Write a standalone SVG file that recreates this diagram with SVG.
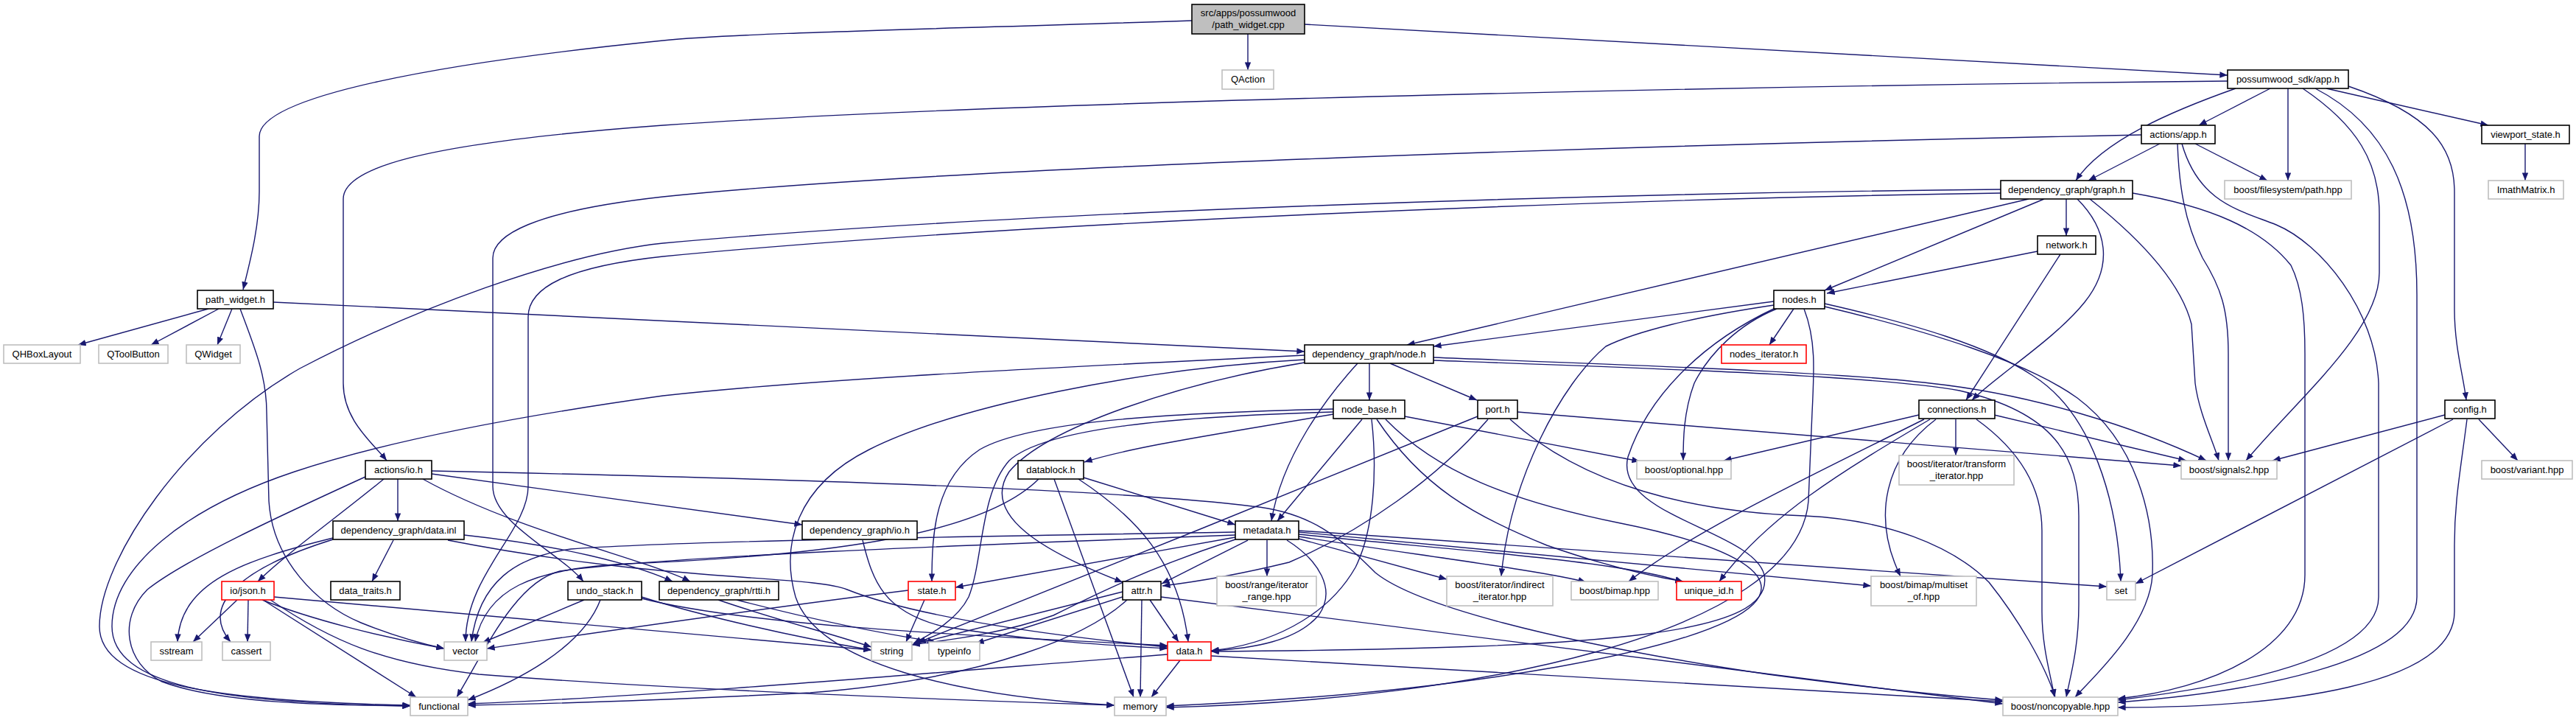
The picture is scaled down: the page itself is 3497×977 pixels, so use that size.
<svg xmlns="http://www.w3.org/2000/svg" width="3497" height="977" viewBox="0 0 3497 977">
<style>
.n rect{fill:#fff;stroke:#000;stroke-width:1.6}
.g rect{stroke:#bfbfbf}
.r rect{stroke:#ff0000}
.c rect{fill:#bfbfbf}
text{font-family:"Liberation Sans",Arial,Helvetica,sans-serif;font-size:13px;text-anchor:middle;fill:#000}
#edges path{fill:none;stroke:#191970;stroke-width:1.4;marker-end:url(#a)}
</style>
<defs>
<marker id="a" viewBox="0 0 10 8" refX="10" refY="4" markerWidth="11" markerHeight="8.5" orient="auto" markerUnits="userSpaceOnUse"><path d="M0,0L10,4L0,8z" fill="#191970"/></marker>
</defs>
<rect width="3497" height="977" fill="#fff"/>
<g id="edges">
<path d="M1618,28 C1250,40 1000,45 900,55 C600,85 352,130 352,185 L352,260 C352,310 338,360 330,393"/>
<path d="M1694,46 L1694,95"/>
<path d="M1771,33 L3024,102"/>
<path d="M3082,120 L2985,170"/>
<path d="M3035,120 C2950,150 2855,190 2818,245"/>
<path d="M3106,120 L3106,245"/>
<path d="M3158,120 L3378,170"/>
<path d="M3188,117 C3300,155 3332,200 3332,260 L3332,420 C3332,470 3344,510 3348,543"/>
<path d="M3126,120 C3200,170 3230,220 3230,290 L3230,370 C3230,450 3120,540 3049,625"/>
<path d="M3143,120 C3240,170 3281,260 3281,400 L3281,810 C3281,900 3050,940 2875,953"/>
<path d="M3024,110 C2500,115 1400,135 900,170 C560,195 466,230 466,270 L466,520 C466,570 505,600 525,625"/>
<path d="M2932,195 L2835,245"/>
<path d="M2980,195 L3078,245"/>
<path d="M2907,183 C2300,195 1300,225 900,267 C720,287 669,320 669,350 L669,660 C669,710 760,750 792,789"/>
<path d="M2956,195 C2958,250 2965,300 2990,350 C3015,390 3025,420 3025,480 L3025,625"/>
<path d="M2962,195 C2985,275 3040,285 3090,305 C3150,330 3225,420 3229,520 L3229,810 C3229,900 3000,935 2875,950"/>
<path d="M3428,195 L3428,245"/>
<path d="M2805,270 L2805,320"/>
<path d="M2754,270 L1910,468"/>
<path d="M2775,270 L2477,394"/>
<path d="M2820,270 C2860,310 2870,360 2830,410 C2790,460 2710,510 2677,543"/>
<path d="M2837,270 C2900,320 2960,380 2975,440 L2980,520 C2985,560 3005,600 3012,625"/>
<path d="M2895,262 C3000,280 3070,310 3110,360 C3125,390 3129,430 3129,480 L3129,780 C3129,880 3000,935 2875,948"/>
<path d="M2716,257 C2200,262 1400,285 900,330 C760,345 560,420 407,500 C250,590 135,760 135,850 C135,930 300,952 557,957"/>
<path d="M2716,262 C2200,270 1400,300 900,348 C770,362 717,390 717,430 L717,660 C717,720 632,780 632,871"/>
<path d="M2766,341 L2480,398"/>
<path d="M2797,345 L2669,543"/>
<path d="M283,419 L106,468"/>
<path d="M297,419 L205,468"/>
<path d="M315,419 L295,468"/>
<path d="M371,410 L1771,477"/>
<path d="M326,419 C345,470 362,510 362,560 L365,680 C370,760 430,820 490,845 C540,865 575,874 603,880"/>
<path d="M1859,493 L1859,543"/>
<path d="M1887,493 L2005,543"/>
<path d="M1843,493 C1800,540 1740,620 1726,707"/>
<path d="M1771,482 C1400,500 1100,515 900,537 C700,565 520,600 400,640 C250,690 152,770 152,850 C152,930 300,955 557,958"/>
<path d="M1771,488 C1550,500 1300,550 1180,610 C1080,660 1060,740 1080,810 C1110,900 1300,945 1513,957"/>
<path d="M1771,492 C1600,520 1420,580 1370,640 C1330,700 1420,750 1524,790"/>
<path d="M1946,485 C2200,495 2500,505 2620,520 C2760,535 2900,580 2995,625"/>
<path d="M1946,489 C2250,500 2550,510 2660,530 C2790,560 2822,620 2822,700 L2822,820 C2822,880 2810,920 2805,946"/>
<path d="M1810,562 C1680,585 1540,605 1472,627"/>
<path d="M1810,555 C1600,560 1400,570 1330,610 C1270,650 1265,720 1265,789"/>
<path d="M1810,559 C1600,565 1420,580 1370,625 C1330,670 1335,760 1315,810 C1300,840 1265,860 1240,873"/>
<path d="M1849,569 L1734,707"/>
<path d="M1862,569 C1870,640 1865,720 1840,770 C1800,840 1720,875 1644,883"/>
<path d="M1869,569 C1930,660 2000,700 2100,740 C2200,775 2260,785 2285,789"/>
<path d="M1907,565 L2226,626"/>
<path d="M1881,569 C1950,640 2050,680 2200,710 C2350,740 2420,780 2380,820 C2320,880 2000,940 1583,958"/>
<path d="M2006,565 C1800,650 1450,790 1246,872"/>
<path d="M2020,569 C1950,650 1850,720 1750,763 C1680,780 1620,790 1578,795"/>
<path d="M2050,569 C2150,660 2300,695 2450,700 C2560,705 2650,740 2700,790 C2740,840 2775,900 2790,946"/>
<path d="M2060,559 L2961,632"/>
<path d="M2408,409 L1946,470"/>
<path d="M2408,414 C2300,430 2220,450 2180,470 C2120,520 2050,650 2038,782"/>
<path d="M2410,418 C2320,460 2240,530 2210,620 C2190,700 2380,720 2395,780 C2410,860 2200,880 1644,884"/>
<path d="M2412,419 C2360,440 2320,480 2300,520 C2285,560 2285,600 2285,625"/>
<path d="M2435,419 L2402,468"/>
<path d="M2449,419 C2465,460 2463,500 2460,560 L2455,680 C2440,860 2000,950 1583,960"/>
<path d="M2477,412 C2600,440 2700,470 2760,510 C2840,560 2875,680 2879,789"/>
<path d="M2477,416 C2620,450 2750,490 2820,540 C2900,600 2925,700 2922,780 C2918,850 2840,920 2817,946"/>
<path d="M2605,563 L2340,625"/>
<path d="M2612,569 C2450,650 2300,720 2211,789"/>
<path d="M2620,569 C2500,640 2400,700 2334,789"/>
<path d="M2628,569 C2560,620 2540,700 2580,782"/>
<path d="M2655,569 L2655,618"/>
<path d="M2707,563 L2968,625"/>
<path d="M2683,569 C2740,610 2772,660 2772,720 L2772,830 C2772,880 2785,920 2789,946"/>
<path d="M3319,563 L3085,625"/>
<path d="M3330,569 L2899,792"/>
<path d="M3365,569 L3418,625"/>
<path d="M3349,569 C3340,640 3332,680 3332,740 L3332,830 C3332,930 3100,960 2875,960"/>
<path d="M540,650 L540,707"/>
<path d="M521,650 C460,700 390,750 350,789"/>
<path d="M496,647 C380,700 250,760 200,800 C160,840 170,900 220,925 C300,955 450,957 557,958"/>
<path d="M586,643 L1089,712"/>
<path d="M586,639 C1000,648 1500,662 1700,687 C1780,695 1820,730 1867,777 C1920,820 2100,870 2400,915 C2550,935 2650,945 2719,950"/>
<path d="M574,650 C700,720 880,760 937,789"/>
<path d="M534,733 L505,789"/>
<path d="M452,730 C330,760 245,790 241,871"/>
<path d="M452,732 C330,770 270,820 313,871"/>
<path d="M630,726 C760,740 860,765 913,789"/>
<path d="M608,733 C900,790 1100,780 1150,800 C1250,840 1450,865 1585,878"/>
<path d="M1171,733 C1185,790 1200,830 1280,850 C1400,870 1500,875 1585,880"/>
<path d="M1720,733 L1720,782"/>
<path d="M1694,733 L1577,792"/>
<path d="M1677,729 L1297,797"/>
<path d="M1677,732 C1560,770 1480,810 1430,835 C1360,860 1290,868 1238,875"/>
<path d="M1677,722 C1300,728 900,735 775,745 C700,755 650,790 640,871"/>
<path d="M1677,726 C1300,740 900,755 760,775 C700,790 660,880 620,946"/>
<path d="M1763,720 L2860,796"/>
<path d="M1763,722 L2540,795"/>
<path d="M1763,725 C1950,745 2200,760 2285,790"/>
<path d="M1763,728 C1900,750 2100,775 2153,790"/>
<path d="M1763,731 L1964,786"/>
<path d="M1747,733 C1790,760 1815,800 1790,835 C1760,870 1700,880 1644,883"/>
<path d="M1471,648 L1677,712"/>
<path d="M1464,650 C1540,700 1600,760 1613,871"/>
<path d="M1431,650 L1539,946"/>
<path d="M1410,650 C1330,730 1100,755 850,765 C720,772 660,800 645,871"/>
<path d="M1233,801 C1000,830 800,860 661,880"/>
<path d="M1255,814 L1230,871"/>
<path d="M1524,803 L1238,875"/>
<path d="M1530,808 L1325,873"/>
<path d="M1561,814 L1600,871"/>
<path d="M1550,814 L1548,946"/>
<path d="M1530,814 C1480,860 1350,920 1100,940 C900,950 750,955 635,957"/>
<path d="M1576,810 L2719,955"/>
<path d="M1602,896 L1563,946"/>
<path d="M1585,888 C1300,910 900,945 635,955"/>
<path d="M1644,890 L2719,952"/>
<path d="M322,814 L262,871"/>
<path d="M337,814 L336,871"/>
<path d="M356,814 C420,840 520,865 603,880"/>
<path d="M357,814 L565,946"/>
<path d="M372,810 L1183,882"/>
<path d="M367,814 C450,870 520,900 650,915 C900,935 1300,950 1513,957"/>
<path d="M793,814 L655,872"/>
<path d="M815,814 C790,880 700,925 635,950"/>
<path d="M871,810 C950,835 1080,865 1183,882"/>
<path d="M871,812 C1000,845 1250,860 1585,876"/>
<path d="M975,814 C1050,840 1130,860 1183,878"/>
<path d="M1000,814 C1100,840 1200,860 1270,871"/>
</g>
<g id="n0" class="n c"><rect x="1618" y="6" width="153" height="40"/><text x="1694.5" y="22">src/apps/possumwood</text><text x="1694.5" y="38">/path_widget.cpp</text></g>
<g id="n1" class="n g"><rect x="1659" y="95" width="70" height="26"/><text x="1694" y="112">QAction</text></g>
<g id="n2" class="n"><rect x="3024" y="95" width="164" height="25"/><text x="3106" y="112">possumwood_sdk/app.h</text></g>
<g id="n3" class="n"><rect x="2907" y="170" width="100" height="25"/><text x="2957" y="187">actions/app.h</text></g>
<g id="n4" class="n"><rect x="3369" y="170" width="119" height="25"/><text x="3428.5" y="187">viewport_state.h</text></g>
<g id="n5" class="n"><rect x="2716" y="245" width="179" height="25"/><text x="2805.5" y="262">dependency_graph/graph.h</text></g>
<g id="n6" class="n g"><rect x="3020" y="245" width="172" height="25"/><text x="3106" y="262">boost/filesystem/path.hpp</text></g>
<g id="n7" class="n g"><rect x="3378" y="245" width="102" height="25"/><text x="3429" y="262">ImathMatrix.h</text></g>
<g id="n8" class="n"><rect x="2766" y="320" width="79" height="25"/><text x="2805.5" y="337">network.h</text></g>
<g id="n9" class="n"><rect x="268" y="394" width="103" height="25"/><text x="319.5" y="411">path_widget.h</text></g>
<g id="n10" class="n"><rect x="2408" y="394" width="69" height="25"/><text x="2442.5" y="411">nodes.h</text></g>
<g id="n11" class="n g"><rect x="5" y="468" width="104" height="25"/><text x="57" y="485">QHBoxLayout</text></g>
<g id="n12" class="n g"><rect x="134" y="468" width="94" height="25"/><text x="181" y="485">QToolButton</text></g>
<g id="n13" class="n g"><rect x="253" y="468" width="73" height="25"/><text x="289.5" y="485">QWidget</text></g>
<g id="n14" class="n"><rect x="1771" y="468" width="175" height="25"/><text x="1858.5" y="485">dependency_graph/node.h</text></g>
<g id="n15" class="n r"><rect x="2337" y="468" width="115" height="25"/><text x="2394.5" y="485">nodes_iterator.h</text></g>
<g id="n16" class="n"><rect x="1810" y="543" width="97" height="25"/><text x="1858.5" y="560">node_base.h</text></g>
<g id="n17" class="n"><rect x="2006" y="543" width="54" height="25"/><text x="2033" y="560">port.h</text></g>
<g id="n18" class="n"><rect x="2605" y="543" width="103" height="25"/><text x="2656.5" y="560">connections.h</text></g>
<g id="n19" class="n"><rect x="3319" y="543" width="68" height="25"/><text x="3353" y="560">config.h</text></g>
<g id="n20" class="n"><rect x="496" y="625" width="90" height="25"/><text x="541" y="642">actions/io.h</text></g>
<g id="n21" class="n"><rect x="1382" y="625" width="89" height="25"/><text x="1426.5" y="642">datablock.h</text></g>
<g id="n22" class="n g"><rect x="2222" y="625" width="128" height="25"/><text x="2286" y="642">boost/optional.hpp</text></g>
<g id="n23" class="n g"><rect x="2578" y="618" width="156" height="40"/><text x="2656" y="634">boost/iterator/transform</text><text x="2656" y="650">_iterator.hpp</text></g>
<g id="n24" class="n g"><rect x="2961" y="625" width="130" height="25"/><text x="3026" y="642">boost/signals2.hpp</text></g>
<g id="n25" class="n g"><rect x="3369" y="625" width="123" height="25"/><text x="3430.5" y="642">boost/variant.hpp</text></g>
<g id="n26" class="n"><rect x="452" y="707" width="178" height="25"/><text x="541" y="724">dependency_graph/data.inl</text></g>
<g id="n27" class="n"><rect x="1089" y="707" width="156" height="25"/><text x="1167" y="724">dependency_graph/io.h</text></g>
<g id="n28" class="n"><rect x="1677" y="707" width="86" height="25"/><text x="1720" y="724">metadata.h</text></g>
<g id="n29" class="n r"><rect x="301" y="789" width="71" height="25"/><text x="336.5" y="806">io/json.h</text></g>
<g id="n30" class="n"><rect x="449" y="789" width="94" height="25"/><text x="496" y="806">data_traits.h</text></g>
<g id="n31" class="n"><rect x="771" y="789" width="100" height="25"/><text x="821" y="806">undo_stack.h</text></g>
<g id="n32" class="n"><rect x="895" y="789" width="162" height="25"/><text x="976" y="806">dependency_graph/rtti.h</text></g>
<g id="n33" class="n r"><rect x="1233" y="789" width="64" height="25"/><text x="1265" y="806">state.h</text></g>
<g id="n34" class="n"><rect x="1524" y="789" width="52" height="25"/><text x="1550" y="806">attr.h</text></g>
<g id="n35" class="n g"><rect x="1652" y="782" width="135" height="40"/><text x="1719.5" y="798">boost/range/iterator</text><text x="1719.5" y="814">_range.hpp</text></g>
<g id="n36" class="n g"><rect x="1964" y="782" width="144" height="40"/><text x="2036" y="798">boost/iterator/indirect</text><text x="2036" y="814">_iterator.hpp</text></g>
<g id="n37" class="n g"><rect x="2133" y="789" width="118" height="25"/><text x="2192" y="806">boost/bimap.hpp</text></g>
<g id="n38" class="n r"><rect x="2276" y="789" width="88" height="25"/><text x="2320" y="806">unique_id.h</text></g>
<g id="n39" class="n g"><rect x="2540" y="782" width="143" height="40"/><text x="2611.5" y="798">boost/bimap/multiset</text><text x="2611.5" y="814">_of.hpp</text></g>
<g id="n40" class="n g"><rect x="2860" y="789" width="39" height="25"/><text x="2879.5" y="806">set</text></g>
<g id="n41" class="n g"><rect x="205" y="871" width="69" height="25"/><text x="239.5" y="888">sstream</text></g>
<g id="n42" class="n g"><rect x="302" y="871" width="65" height="25"/><text x="334.5" y="888">cassert</text></g>
<g id="n43" class="n g"><rect x="603" y="871" width="58" height="25"/><text x="632" y="888">vector</text></g>
<g id="n44" class="n g"><rect x="1183" y="871" width="55" height="25"/><text x="1210.5" y="888">string</text></g>
<g id="n45" class="n g"><rect x="1261" y="871" width="69" height="25"/><text x="1295.5" y="888">typeinfo</text></g>
<g id="n46" class="n r"><rect x="1585" y="871" width="59" height="25"/><text x="1614.5" y="888">data.h</text></g>
<g id="n47" class="n g"><rect x="557" y="946" width="78" height="25"/><text x="596" y="963">functional</text></g>
<g id="n48" class="n g"><rect x="1513" y="946" width="70" height="25"/><text x="1548" y="963">memory</text></g>
<g id="n49" class="n g"><rect x="2719" y="946" width="156" height="25"/><text x="2797" y="963">boost/noncopyable.hpp</text></g>
</svg>
